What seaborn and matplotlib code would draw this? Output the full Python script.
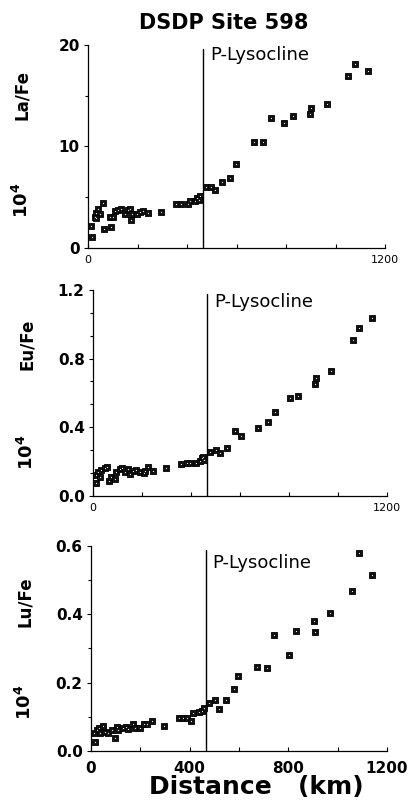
import matplotlib
matplotlib.use("Agg")
import matplotlib.pyplot as plt
import seaborn as sns
import pandas as pd
import numpy as np
from matplotlib.ticker import AutoMinorLocator, MultipleLocator

# distance (km) and 10^4 La/Fe
la_dist = [13, 16, 27, 34, 40, 47, 34, 61, 65, 92, 88, 101, 108, 121, 135, 148,
           162, 171, 175, 179, 196, 209, 222, 243, 294, 357, 377, 402, 411, 431,
           441, 452, 448, 476, 496, 514, 542, 573, 596, 670, 708, 738, 793, 829,
           897, 903, 967, 1052, 1078, 1133]
la_fe = [2.2, 1.05, 3.1, 3.4, 3.8, 3.3, 2.95, 4.4, 1.9, 2.05, 3.1, 3.1, 3.6, 3.7,
         3.8, 3.3, 3.7, 3.8, 2.8, 3.3, 3.3, 3.5, 3.6, 3.4, 3.5, 4.3, 4.3, 4.3,
         4.65, 4.65, 4.9, 5.1, 4.75, 6.05, 6.05, 5.7, 6.55, 6.85, 8.3, 10.4, 10.4,
         12.8, 12.3, 13.05, 13.2, 13.8, 14.15, 16.9, 18.1, 17.4]

# distance (km) and 10^4 Eu/Fe
eu_dist = [14, 11, 20, 34, 27, 48, 57, 64, 75, 89, 95, 109, 120, 130, 143, 153,
           164, 177, 191, 207, 214, 225, 245, 296, 361, 382, 395, 419, 436, 443,
           450, 453, 477, 502, 518, 545, 580, 603, 675, 716, 743, 802, 836, 907,
           911, 971, 1061, 1084, 1140]
eu_fe = [0.072, 0.12, 0.14, 0.15, 0.11, 0.16, 0.165, 0.088, 0.11, 0.10, 0.14,
         0.155, 0.16, 0.14, 0.155, 0.126, 0.144, 0.15, 0.14, 0.134, 0.144, 0.165,
         0.146, 0.163, 0.183, 0.189, 0.193, 0.193, 0.202, 0.218, 0.228, 0.208,
         0.257, 0.266, 0.247, 0.276, 0.377, 0.35, 0.397, 0.428, 0.49, 0.568,
         0.583, 0.65, 0.685, 0.73, 0.908, 0.976, 1.039]

# distance (km) and 10^4 Lu/Fe
lu_dist = [16, 14, 23, 34, 47, 37, 57, 70, 84, 97, 104, 111, 129, 142, 152, 169,
           179, 199, 215, 229, 246, 298, 357, 375, 388, 406, 415, 436, 449, 459,
           480, 503, 517, 547, 578, 598, 675, 713, 740, 801, 832, 905, 909, 970,
           1058, 1085, 1139]
lu_fe = [0.027, 0.052, 0.061, 0.066, 0.073, 0.054, 0.057, 0.052, 0.061, 0.037,
         0.071, 0.061, 0.066, 0.071, 0.063, 0.079, 0.066, 0.066, 0.078, 0.078,
         0.088, 0.074, 0.098, 0.098, 0.096, 0.088, 0.11, 0.115, 0.118, 0.125,
         0.14, 0.149, 0.123, 0.149, 0.18, 0.22, 0.245, 0.242, 0.34, 0.281, 0.351,
         0.379, 0.347, 0.403, 0.469, 0.58, 0.515]

lysocline_km = 465

panels = [
    ("La/Fe", la_dist, la_fe, (0, 20), 10, 2, [0.2131, 0.69, 0.7191, 0.2538]),
    ("Eu/Fe", eu_dist, eu_fe, (0, 1.2), 0.4, 3, [0.2252, 0.3804, 0.7119, 0.2571]),
    ("Lu/Fe", lu_dist, lu_fe, (0, 0.6), 0.2, 2, [0.2203, 0.06125, 0.7167, 0.2563]),
]
label_pos = [(0.754, 0.236, 0.95), (0.737, 0.212, 0.94), (0.727, 0.239, 0.917)]


def main():
    sns.set_style("ticks")
    plt.rcParams['font.family'] = ['DejaVu Sans']
    # plain black text like the printed figure
    for key in ['text.color', 'axes.labelcolor', 'xtick.color', 'ytick.color',
                'axes.edgecolor']:
        plt.rcParams[key] = 'black'

    fig = plt.figure(figsize=(4.13, 8), dpi=100)

    for i, (name, xs, ys, ylim, major, nminor, rect) in enumerate(panels):
        ax = fig.add_axes(rect)
        df = pd.DataFrame({'dist': xs, 'ratio': ys})
        sns.scatterplot(data=df, x='dist', y='ratio', ax=ax, marker='s', s=22,
                        color='#111111', edgecolor='black', linewidth=0.6,
                        zorder=3)
        sns.scatterplot(data=df, x='dist', y='ratio', ax=ax, marker='o', s=0.7,
                        color='white', linewidth=0, zorder=4)
        ax.axvline(lysocline_km, ymin=0, ymax=0.98, color='black', lw=1.0)

        ly, ty, py = label_pos[i]
        ax.text(lysocline_km + 28, ylim[1] * py, "P-Lysocline", fontsize=13,
                ha='left', va='center')

        ax.set_xlim(0, 1200)
        ax.set_ylim(*ylim)
        ax.set_xlabel("")
        ax.set_ylabel("")
        sns.despine(ax=ax)
        for sp in ax.spines.values():
            sp.set_linewidth(0.9)

        ax.yaxis.set_major_locator(MultipleLocator(major))
        ax.yaxis.set_minor_locator(AutoMinorLocator(nminor))
        if i == 0:
            ax.set_yticklabels([f"{v:g}" for v in ax.get_yticks()])
        else:
            ax.set_yticklabels([f"{v:.1f}" for v in ax.get_yticks()])
        ax.tick_params(axis='y', which='major', direction='out', length=3,
                       width=0.8, pad=3, labelsize=11)
        ax.tick_params(axis='y', which='minor', direction='out', length=2,
                       width=0.8)
        for lab in ax.get_yticklabels():
            lab.set_fontweight('bold')

        xt = list(range(0, 1201, 200))
        ax.set_xticks(xt)
        if i < 2:
            ax.set_xticklabels([str(v) if v in (0, 1200) else "" for v in xt])
            ax.tick_params(axis='x', direction='in', length=3, width=0.8,
                           pad=5, labelsize=8)
        else:
            ax.set_xticklabels([str(v) if v % 400 == 0 else "" for v in xt])
            ax.tick_params(axis='x', direction='in', length=3, width=0.8,
                           pad=7, labelsize=11)
            for lab in ax.get_xticklabels():
                lab.set_fontweight('bold')

        ax.text(-0.223, ly, name, transform=ax.transAxes, rotation=90,
                ha='center', va='center', fontsize=12, fontweight='bold')
        ax.text(-0.223, ty, r"10$^{\mathbf{4}}$", transform=ax.transAxes,
                rotation=90, ha='center', va='center', fontsize=13,
                fontweight='bold')

    fig.text(0.542, 0.971, "DSDP Site 598", ha='center', va='center',
             fontsize=15, fontweight='bold')
    fig.text(0.62, 0.016, "Distance   (km)", ha='center', va='center',
             fontsize=18, fontweight='bold')

    fig.savefig("out.png", dpi=100)


if __name__ == "__main__":
    main()
